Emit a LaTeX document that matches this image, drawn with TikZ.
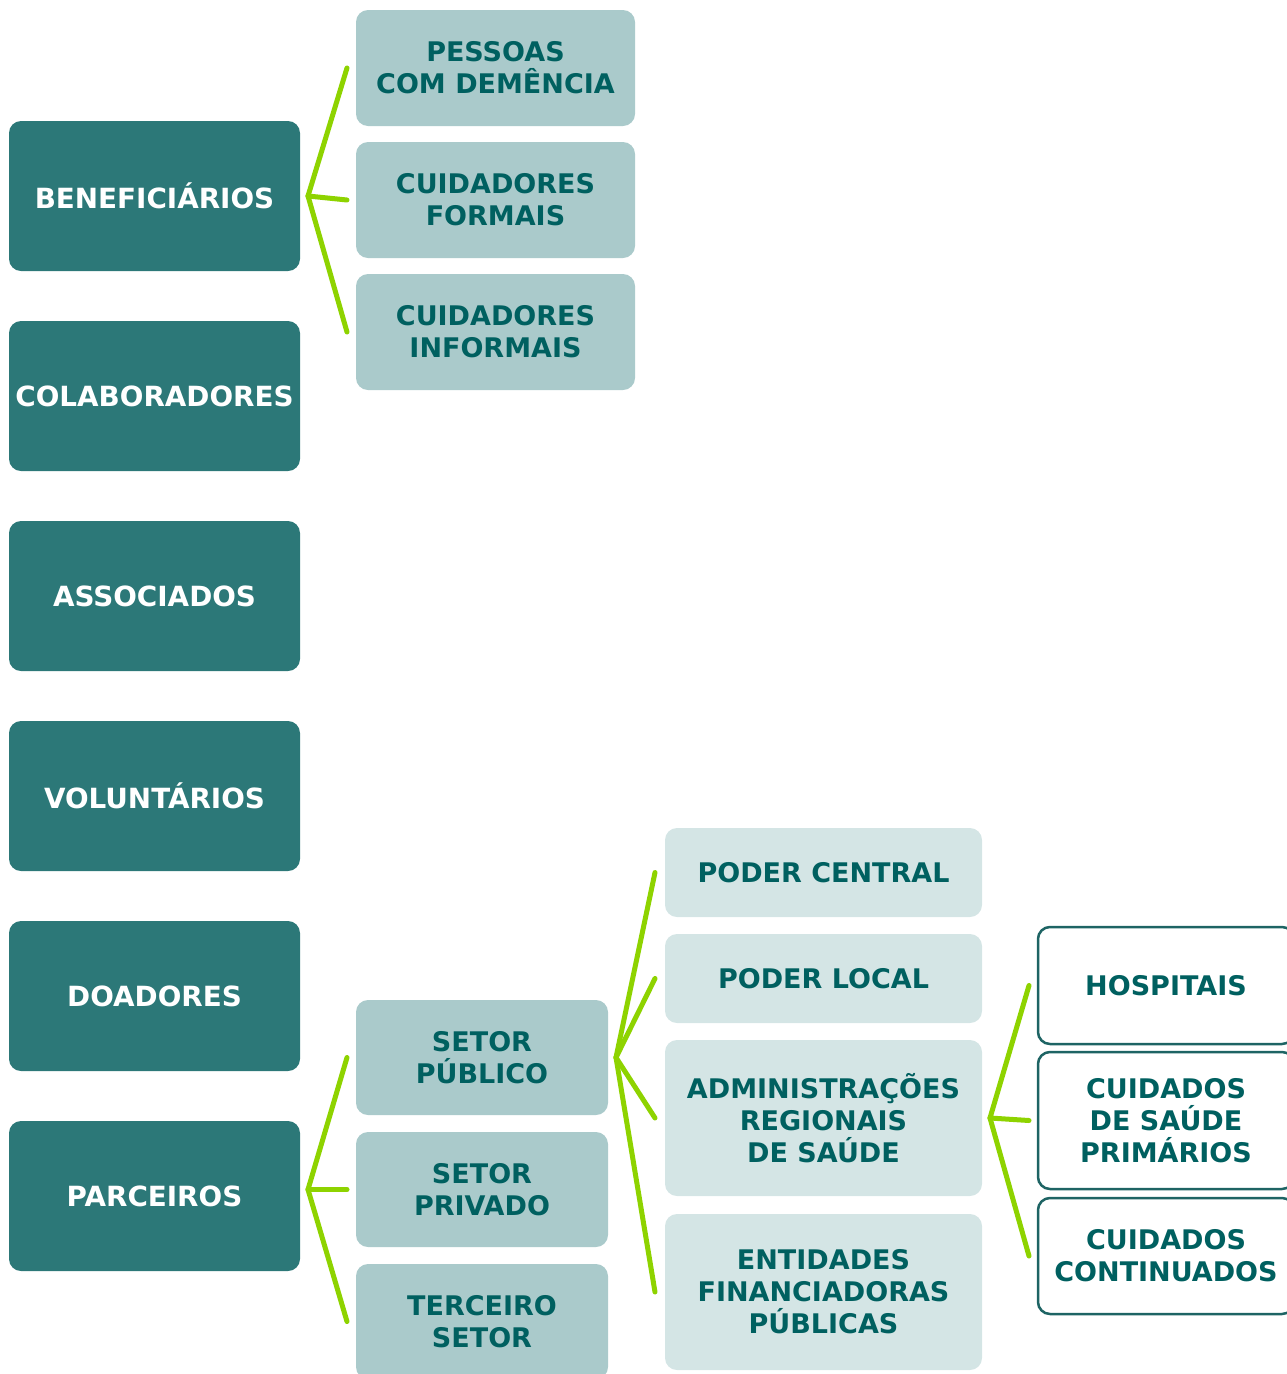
\documentclass[tikz,border=0pt]{standalone}
\usepackage{fontspec}
\setmainfont{DejaVu Sans}
\usepackage{tikz}
\usetikzlibrary{positioning, calc}

\definecolor{tealdark}{HTML}{2C7878}
\definecolor{tealmid}{HTML}{AACACB}
\definecolor{teallight}{HTML}{D4E5E5}
\definecolor{tealtext}{HTML}{006060}
\definecolor{tealline}{HTML}{1E6464}
\definecolor{limegreen}{HTML}{8ED300}

\begin{document}
\begin{tikzpicture}[x=1pt, y=-1pt, node distance=16pt, every node/.style={align=center, font=\bfseries\fontsize{27}{32}\selectfont}]
\tikzset{
  group/.style={
    rectangle, fill=tealdark, rounded corners=12pt, text=white,
    font=\bfseries\fontsize{27.8}{34}\selectfont, inner xsep=1pt,
    minimum width=291pt, minimum height=150pt, outer sep=0pt
  },
  sub/.style={
    rectangle, fill=tealmid, rounded corners=12pt, text=tealtext,
    minimum width=279pt, minimum height=116pt, outer sep=0pt
  },
  sector/.style={
    rectangle, fill=tealmid, rounded corners=12pt, text=tealtext,
    minimum width=252pt, minimum height=115pt, outer sep=0pt
  },
  entity/.style={
    rectangle, fill=teallight, rounded corners=12pt, text=tealtext,
    minimum width=317pt, minimum height=89pt, outer sep=0pt
  },
  service/.style={
    rectangle, draw=tealline, line width=2.5pt, fill=white, rounded corners=12pt,
    text=tealtext, minimum width=256pt, minimum height=117pt, outer sep=0pt
  },
  branch/.style={line width=5pt, draw=limegreen, line cap=round, line join=round}
}
\useasboundingbox (0,0) rectangle (1287,1374);

% stakeholder groups
\node (benef) [group] at (154.5,196) {BENEFICIÁRIOS};
\node (colab) [group, below=50pt of benef] {COLABORADORES};
\node (assoc) [group, below=50pt of colab] {ASSOCIADOS};
\node (volunt) [group, below=50pt of assoc] {VOLUNTÁRIOS};
\node (doad) [group, below=50pt of volunt] {DOADORES};
\node (parc) [group, below=50pt of doad] {PARCEIROS};

% beneficiaries
\node (pessoas) [sub] at (495.5,68) {PESSOAS\\COM DEMÊNCIA};
\node (formais) [sub, below=of pessoas] {CUIDADORES\\FORMAIS};
\node (informais) [sub, below=of formais] {CUIDADORES\\INFORMAIS};

% partners
\node (publico) [sector] at (482,1057.5) {SETOR\\PÚBLICO};
\node (privado) [sector, below=17pt of publico] {SETOR\\PRIVADO};
\node (terceiro) [sector, below=17pt of privado] {TERCEIRO\\SETOR};

% public sector
\node (central) [entity] at (823.5,872.5) {PODER CENTRAL};
\node (local) [entity, below=17pt of central] {PODER LOCAL};
\node (ars) [entity, minimum height=156pt, below=17pt of local] {ADMINISTRAÇÕES\\REGIONAIS\\DE SAÚDE};
\node (financ) [entity, minimum height=156pt, below=18pt of ars] {ENTIDADES\\FINANCIADORAS\\PÚBLICAS};

% health administrations
\node (hosp) [service] at (1166,985.5) {HOSPITAIS};
\node (primarios) [service, minimum height=137pt, below=8pt of hosp] {CUIDADOS\\DE SAÚDE\\PRIMÁRIOS};
\node (continuados) [service, minimum height=116pt, below=9pt of primarios] {CUIDADOS\\CONTINUADOS};

\coordinate (benef-fork) at ($(benef.east)+(8,0)$);
\coordinate (parc-fork) at ($(parc.east |- privado.west)+(8,0)$);
\coordinate (publico-fork) at ($(publico.east)+(8,0)$);
\coordinate (ars-fork) at ($(ars.east)+(8,0)$);

\draw [branch] (benef-fork) -- ([xshift=-9pt]pessoas.west);
\draw [branch] (benef-fork) -- ([xshift=-9pt]formais.west);
\draw [branch] (benef-fork) -- ([xshift=-9pt]informais.west);

\draw [branch] (parc-fork) -- ([xshift=-9pt]publico.west);
\draw [branch] (parc-fork) -- ([xshift=-9pt]privado.west);
\draw [branch] (parc-fork) -- ([xshift=-9pt]terceiro.west);

\draw [branch] (publico-fork) -- ([xshift=-10pt]central.west);
\draw [branch] (publico-fork) -- ([xshift=-10pt]local.west);
\draw [branch] (publico-fork) -- ([xshift=-10pt]ars.west);
\draw [branch] (publico-fork) -- ([xshift=-10pt]financ.west);

\draw [branch] (ars-fork) -- ([xshift=-9pt]hosp.west);
\draw [branch] (ars-fork) -- ([xshift=-9pt]primarios.west);
\draw [branch] (ars-fork) -- ([xshift=-9pt]continuados.west);
\end{tikzpicture}
\end{document}
